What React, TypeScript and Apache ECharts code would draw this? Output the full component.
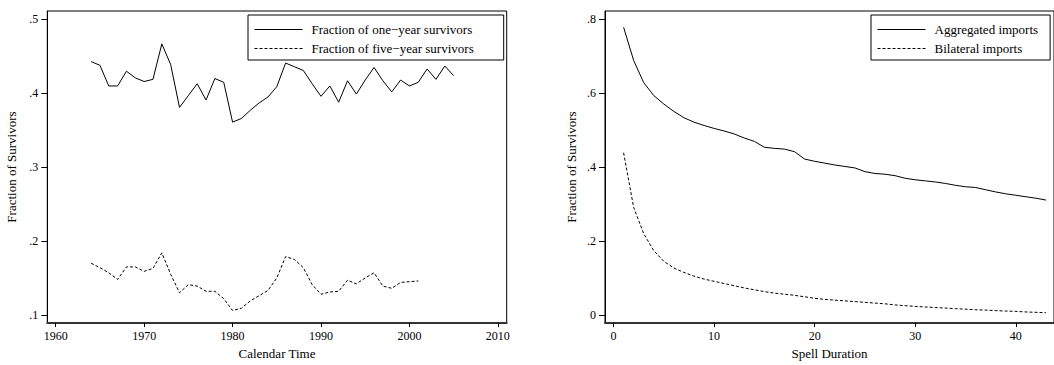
import React, { useEffect, useRef } from "react";
import * as echarts from "echarts";

const calendarYearsOne = [
  1964, 1965, 1966, 1967, 1968, 1969, 1970, 1971, 1972, 1973, 1974, 1975, 1976, 1977,
  1978, 1979, 1980, 1981, 1982, 1983, 1984, 1985, 1986, 1987, 1988, 1989, 1990, 1991,
  1992, 1993, 1994, 1995, 1996, 1997, 1998, 1999, 2000, 2001, 2002, 2003, 2004, 2005,
];
const oneYearSurvivors = [
  0.443, 0.438, 0.41, 0.41, 0.43, 0.421, 0.416, 0.419, 0.467, 0.439, 0.381, 0.397, 0.413, 0.391,
  0.42, 0.415, 0.361, 0.366, 0.377, 0.387, 0.395, 0.409, 0.441, 0.436, 0.431, 0.413, 0.396, 0.41,
  0.388, 0.417, 0.399, 0.418, 0.435, 0.417, 0.402, 0.418, 0.41, 0.415, 0.433, 0.419, 0.437, 0.424,
];
const calendarYearsFive = [
  1964, 1965, 1966, 1967, 1968, 1969, 1970, 1971, 1972, 1973, 1974, 1975, 1976, 1977,
  1978, 1979, 1980, 1981, 1982, 1983, 1984, 1985, 1986, 1987, 1988, 1989, 1990, 1991,
  1992, 1993, 1994, 1995, 1996, 1997, 1998, 1999, 2000, 2001,
];
const fiveYearSurvivors = [
  0.17, 0.164, 0.157, 0.148, 0.165, 0.165, 0.159, 0.163, 0.184, 0.155, 0.13, 0.141, 0.139, 0.132,
  0.132, 0.122, 0.106, 0.109, 0.119, 0.126, 0.133, 0.15, 0.179, 0.175, 0.164, 0.141, 0.128, 0.131,
  0.132, 0.147, 0.142, 0.15, 0.157, 0.139, 0.136, 0.144, 0.145, 0.146,
];

const spellDurations = [
  1, 2, 3, 4, 5, 6, 7, 8, 9, 10, 11, 12, 13, 14, 15, 16, 17, 18, 19, 20, 21, 22,
  23, 24, 25, 26, 27, 28, 29, 30, 31, 32, 33, 34, 35, 36, 37, 38, 39, 40, 41, 42, 43,
];
const aggregatedImports = [
  0.779, 0.689, 0.629, 0.594, 0.571, 0.551, 0.534, 0.522, 0.513, 0.505, 0.498, 0.49, 0.479,
  0.47, 0.454, 0.451, 0.449, 0.442, 0.422, 0.416, 0.411, 0.406, 0.402, 0.398, 0.388, 0.383,
  0.381, 0.377, 0.37, 0.366, 0.363, 0.36, 0.356, 0.351, 0.347, 0.345, 0.339, 0.333, 0.328,
  0.324, 0.32, 0.316, 0.311,
];
const bilateralImports = [
  0.439, 0.291, 0.22, 0.174, 0.145, 0.127, 0.115, 0.105, 0.097, 0.091, 0.085, 0.079, 0.073,
  0.068, 0.063, 0.059, 0.056, 0.053, 0.049, 0.045, 0.042, 0.04, 0.038, 0.036, 0.034, 0.032,
  0.03, 0.027, 0.025, 0.023, 0.0215, 0.02, 0.0185, 0.017, 0.0155, 0.014, 0.013, 0.0115, 0.0105,
  0.0095, 0.008, 0.007, 0.006,
];

const leftXTicks = [1960, 1970, 1980, 1990, 2000, 2010];
const leftYTicks = [0.1, 0.2, 0.3, 0.4, 0.5];
const rightXTicks = [0, 10, 20, 30, 40];
const rightYTicks = [0, 0.2, 0.4, 0.6, 0.8];

const FONT = "'Liberation Serif', 'Times New Roman', serif";

const pairs = (xs: number[], ys: number[]) => ys.map((y, i) => [xs[i], y]);
const fmtY = (v: number) => (v === 0 ? "0" : String(Number(v.toFixed(2))).replace(/^0/, ""));

function xAxisCfg(gridIndex: number, name: string, min: number, max: number, ticks: number[]) {
  return {
    type: "value",
    gridIndex,
    min,
    max,
    name,
    nameLocation: "middle",
    nameGap: 21,
    nameTextStyle: { fontFamily: FONT, fontSize: 13, color: "#000" },
    axisLine: { show: true, onZero: false, lineStyle: { color: "#333", width: 2 } },
    axisTick: { show: true, length: 4, customValues: ticks, lineStyle: { color: "#000", width: 1 } },
    axisLabel: {
      show: true,
      customValues: ticks,
      margin: 7,
      fontFamily: FONT,
      fontSize: 12,
      color: "#000",
      formatter: (v: number) => String(v),
    },
    splitLine: { show: false },
  };
}

function yAxisCfg(gridIndex: number, min: number, max: number, ticks: number[], nameGap: number) {
  return {
    type: "value",
    gridIndex,
    min,
    max,
    name: "Fraction of Survivors",
    nameLocation: "middle",
    nameGap,
    nameRotate: 90,
    nameTextStyle: { fontFamily: FONT, fontSize: 13, color: "#000" },
    axisLine: { show: true, onZero: false, lineStyle: { color: "#000", width: 1 } },
    axisTick: { show: true, length: 6, customValues: ticks, lineStyle: { color: "#000", width: 1 } },
    axisLabel: {
      show: true,
      customValues: ticks,
      margin: 9,
      fontFamily: FONT,
      fontSize: 12,
      color: "#000",
      formatter: fmtY,
    },
    splitLine: { show: false },
  };
}

function legendCfg(names: string[], left: number, padding: number[]) {
  return {
    show: true,
    data: names,
    orient: "vertical",
    left,
    top: 15,
    itemWidth: 48,
    itemHeight: 12,
    itemGap: 6,
    padding,
    borderColor: "#000",
    borderWidth: 1,
    backgroundColor: "#fff",
    selectedMode: false,
    itemStyle: { opacity: 0, borderWidth: 0 },
    lineStyle: { width: 1 },
    textStyle: { fontFamily: FONT, fontSize: 13, color: "#000", padding: [0, 0, 0, 4] },
  };
}

export default function App() {
  const ref = useRef<HTMLDivElement>(null);
  useEffect(() => {
    if (!ref.current) return;
    const chart = echarts.init(ref.current, undefined, { renderer: "svg" });
    const solid = { color: "#000", width: 1, type: "solid" };
    const dashed = { color: "#000", width: 1, type: [3, 2] };
    chart.setOption({
      animation: false,
      backgroundColor: "#fff",
      textStyle: { fontFamily: FONT },
      grid: [
        { left: 47.3, top: 11, width: 459.4, height: 318.7, show: true, borderColor: "#000", borderWidth: 1 },
        { left: 605, top: 11, width: 459.4, height: 318.7, show: true, borderColor: "#000", borderWidth: 1 },
      ],
      legend: [
        legendCfg(["Fraction of one−year survivors", "Fraction of five−year survivors"], 248, [8, 30, 5, 6]),
        legendCfg(["Aggregated imports", "Bilateral imports"], 871, [8, 12, 5, 6]),
      ],
      xAxis: [
        xAxisCfg(0, "Calendar Time", 1959.05, 2011, leftXTicks),
        xAxisCfg(1, "Spell Duration", -0.85, 43.8, rightXTicks),
      ],
      yAxis: [
        yAxisCfg(0, 0.0889, 0.5115, leftYTicks, 29),
        yAxisCfg(1, -0.0222, 0.823, rightYTicks, 27),
      ],
      series: [
        {
          name: "Fraction of one−year survivors",
          type: "line",
          xAxisIndex: 0,
          yAxisIndex: 0,
          data: pairs(calendarYearsOne, oneYearSurvivors),
          symbol: "none",
          showSymbol: false,
          lineStyle: solid,
          itemStyle: { color: "#000" },
        },
        {
          name: "Fraction of five−year survivors",
          type: "line",
          xAxisIndex: 0,
          yAxisIndex: 0,
          data: pairs(calendarYearsFive, fiveYearSurvivors),
          symbol: "none",
          showSymbol: false,
          lineStyle: dashed,
          itemStyle: { color: "#000" },
        },
        {
          name: "Aggregated imports",
          type: "line",
          xAxisIndex: 1,
          yAxisIndex: 1,
          data: pairs(spellDurations, aggregatedImports),
          symbol: "none",
          showSymbol: false,
          lineStyle: solid,
          itemStyle: { color: "#000" },
        },
        {
          name: "Bilateral imports",
          type: "line",
          xAxisIndex: 1,
          yAxisIndex: 1,
          data: pairs(spellDurations, bilateralImports),
          symbol: "none",
          showSymbol: false,
          lineStyle: dashed,
          itemStyle: { color: "#000" },
        },
      ],
    });
    return () => chart.dispose();
  }, []);
  return (
    <div
      ref={ref}
      style={{ position: "fixed", left: 0, top: 0, width: 1054, height: 365, background: "#fff" }}
    />
  );
}
